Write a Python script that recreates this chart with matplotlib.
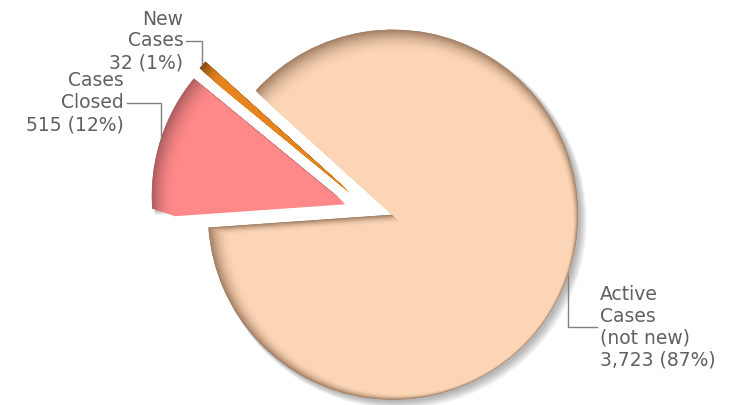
import numpy as np
import matplotlib.pyplot as plt
from matplotlib.patches import Wedge
from matplotlib.colors import to_rgb

# data
labels = ["Active\nCases\n(not new)", "New\nCases", "Cases\nClosed"]
values = [3723, 32, 515]
colors = ["#fbd5b5", "#e5841e", "#ff8989"]
rims = ["#9a765c", "#7a420e", "#a4585a"]

total = sum(values)
W, H = 742, 405
R = 185.0                      # pie radius in pixels
cx, cy = 365, 205              # pie centre in pixels (from top-left)

fig = plt.figure(figsize=(W / 100, H / 100), dpi=100)
ax = fig.add_axes([0, 0, 1, 1])

wedges, _ = ax.pie(values, colors=rims, explode=[0.16] * 3, startangle=184,
                   counterclock=True, radius=1.0,
                   wedgeprops=dict(linewidth=0))

ax.set_xlim(-cx / R, (W - cx) / R)
ax.set_ylim(-(H - cy) / R, cy / R)
ax.set_aspect("equal")
ax.axis("off")

# soft drop shadow + bevel shading
for w, face, rim in zip(wedges, colors, rims):
    c = np.array(w.center)
    t1, t2 = w.theta1, w.theta2
    for k in range(6):
        sh = Wedge(c + np.array([0.012 + k * 0.004, -0.012 - k * 0.004]), 1.0 + k * 0.003,
                   t1, t2, color="#000000", alpha=0.05, lw=0, zorder=0)
        ax.add_patch(sh)
    n = 16
    f, r = np.array(to_rgb(face)), np.array(to_rgb(rim))
    for k in range(n):
        a = (k + 1) / n
        col = r + (f - r) * (1 - (1 - a) ** 2)
        off = np.array([0.003, -0.003]) * k
        ax.add_patch(Wedge(c + off, 1.0 - 0.005 * k, t1, t2, color=col, lw=0, zorder=2 + k * 0.01))

# labels with elbow leader lines (offsets in pixels)
leader = [(52, 29, "left"), (-24, -16, "right"), (-37, -34, "right")]
for w, lab, v, (dy, dx, ha) in zip(wedges, labels, values, leader):
    ang = np.deg2rad((w.theta1 + w.theta2) / 2)
    x0 = w.center[0] + np.cos(ang)
    y0 = w.center[1] + np.sin(ang)
    y1 = y0 - dy / R
    x1 = x0 + dx / R
    ax.plot([x0, x0, x1], [y0, y1, y1], color="#808080", lw=1, zorder=5,
            solid_joinstyle="miter")
    txt = f"{lab}\n{v:,} ({round(100 * v / total)}%)"
    ax.text(x1 + (3 if ha == "left" else -3) / R, y1, txt, ha=ha, va="center",
            fontsize=13.5, color="#606060", linespacing=1.19, zorder=6)

fig.savefig("out.png", dpi=100, facecolor="white")
